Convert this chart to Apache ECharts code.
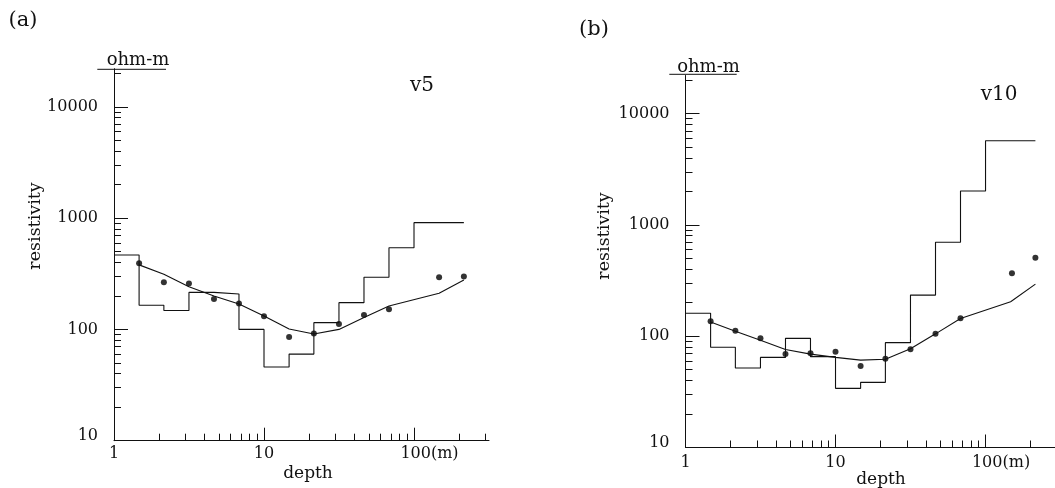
<!DOCTYPE html>
<html>
<head>
<meta charset="utf-8">
<script src="https://cdn.jsdelivr.net/npm/echarts@6/dist/echarts.min.js"></script>
<style>html,body{margin:0;padding:0;background:#fff}#c{width:1055px;height:488px}</style>
</head>
<body>
<div id="c"></div>
<script>
// ---- Panel (a) v5 ----
const modelDepthA = [1, 1.47, 2.15, 3.16, 4.64, 6.81, 10, 14.7, 21.5, 31.6, 46.4, 68.1, 100, 215];
const modelResA   = [466, 165, 148, 215, 208, 100, 46, 60, 115, 174, 294, 542, 910, 910];
const obsDepthA   = [1.47, 2.15, 3.16, 4.64, 6.81, 10, 14.7, 21.5, 31.6, 46.4, 68.1, 147, 215];
const obsResA     = [393, 265, 258, 188, 171, 131, 85.5, 92, 112, 135, 152, 294, 298];
const calcDepthA  = [1.47, 2.15, 3.16, 4.64, 6.81, 10, 14.7, 21.5, 31.6, 46.4, 68.1, 147, 215];
const calcResA    = [380, 313, 242, 200, 169, 132, 101, 91, 100, 128, 162, 211, 278];

// ---- Panel (b) v10 ----
const modelDepthB = [1, 1.47, 2.15, 3.16, 4.64, 6.81, 10, 14.7, 21.5, 31.6, 46.4, 68.1, 100, 215];
const modelResB   = [161, 79.5, 51.8, 64.5, 95.7, 65.5, 34, 38.5, 87.5, 234, 698, 2018, 5710, 5710];
const obsDepthB   = [1.47, 2.15, 3.16, 4.64, 6.81, 10, 14.7, 21.5, 31.6, 46.4, 68.1, 150, 215];
const obsResB     = [136, 112, 95.7, 69.2, 70.2, 72.6, 54, 62.8, 76.2, 105, 145, 367, 507];
const calcDepthB  = [1.47, 2.15, 3.16, 4.64, 6.81, 10, 14.7, 21.5, 31.6, 46.4, 68.1, 147, 215];
const calcResB    = [134, 111, 92, 76, 69, 64.5, 61, 62, 77, 105, 144, 204, 294];

// ---- ticks / labels ----
const xLabelValues = [1, 10, 100];
const xMajorTicks  = [10, 100];
const xMinorTicks  = [2, 3, 4, 5, 6, 7, 8, 9, 20, 30, 40, 50, 60, 70, 80, 90, 200, 300];
const yLabelValues = [10, 100, 1000, 10000];
const yMajorTicks  = [100, 1000, 10000];
const yMinorTicks  = [20, 30, 40, 50, 60, 70, 80, 90, 200, 300, 400, 500, 600, 700, 800, 900,
                      2000, 3000, 4000, 5000, 6000, 7000, 8000, 9000, 20000];

const INK = '#111';
const FONT = 'DejaVu Serif';
const zip = (xs, ys) => xs.map((x, i) => [x, ys[i]]);

const fmtX = v => {
  const r = Math.round(v);
  return r === 100 ? '{sp|}{t|100(m)}' : '{t|' + r + '}';
};
const fmtY = v => {
  const r = Math.round(v);
  return r === 10 ? '{lo|10}' : '{t|' + r + '}';
};
const richT = { fontFamily: FONT, fontSize: 16, color: INK };

function xAxes(grid, max, margin) {
  return [
    { type: 'log', gridIndex: grid, position: 'bottom', min: 1, max: max,
      axisLine: { show: true, onZero: false, lineStyle: { color: INK, width: 1 } },
      axisTick: { show: true, inside: true, length: 13, customValues: xMajorTicks, lineStyle: { color: INK, width: 1 } },
      axisLabel: { show: true, customValues: xLabelValues, margin: margin, formatter: fmtX,
        rich: { t: richT, sp: { width: 31, fontFamily: FONT, fontSize: 16 } } },
      splitLine: { show: false }, minorTick: { show: false } },
    { type: 'log', gridIndex: grid, position: 'bottom', min: 1, max: max,
      axisLine: { show: false },
      axisTick: { show: true, inside: true, length: 7, customValues: xMinorTicks, lineStyle: { color: INK, width: 1 } },
      axisLabel: { show: false }, splitLine: { show: false } }
  ];
}
function yAxes(grid) {
  return [
    { type: 'log', gridIndex: grid, position: 'left', min: 10, max: 22000,
      axisLine: { show: true, onZero: false, lineStyle: { color: INK, width: 1 } },
      axisTick: { show: true, inside: true, length: 14, customValues: yMajorTicks, lineStyle: { color: INK, width: 1 } },
      axisLabel: { show: true, customValues: yLabelValues, margin: 16, formatter: fmtY,
        rich: { t: richT, lo: Object.assign({ padding: [0, 0, 10, 0] }, richT) } },
      splitLine: { show: false } },
    { type: 'log', gridIndex: grid, position: 'left', min: 10, max: 22000,
      axisLine: { show: false },
      axisTick: { show: true, inside: true, length: 7, customValues: yMinorTicks, lineStyle: { color: INK, width: 1 } },
      axisLabel: { show: false }, splitLine: { show: false } }
  ];
}

function seriesFor(xi, yi, md, mr, od, or, cd, cr) {
  return [
    { type: 'line', xAxisIndex: xi, yAxisIndex: yi, step: 'end', data: zip(md, mr),
      symbol: 'none', lineStyle: { color: INK, width: 1.1 }, silent: true },
    { type: 'line', xAxisIndex: xi, yAxisIndex: yi, data: zip(cd, cr),
      symbol: 'none', lineStyle: { color: INK, width: 1.1 }, silent: true },
    { type: 'scatter', xAxisIndex: xi, yAxisIndex: yi, data: zip(od, or),
      symbol: 'circle', symbolSize: 6, itemStyle: { color: '#000' }, silent: true }
  ];
}

const txt = (x, y, s, size, rot) => ({
  type: 'text', x: x, y: y, rotation: rot || 0,
  style: { text: s, fontFamily: FONT, fontSize: size, fill: INK, align: 'center', verticalAlign: 'middle' }
});
const hline = (x1, x2, y) => ({
  type: 'line', shape: { x1: x1, y1: y, x2: x2, y2: y }, style: { stroke: INK, lineWidth: 1 }
});

const chart = echarts.init(document.getElementById('c'), null, { renderer: 'canvas' });
chart.setOption({
  animation: false,
  backgroundColor: '#fff',
  grid: [
    { left: 114, top: 68.7, width: 375, height: 372, outerBoundsMode: 'none', containLabel: false },
    { left: 685.5, top: 75.5, width: 369.4, height: 372, outerBoundsMode: 'none', containLabel: false }
  ],
  xAxis: [].concat(xAxes(0, 316.2, 5), xAxes(1, 290, 7)),
  yAxis: [].concat(yAxes(0), yAxes(1)),
  series: [].concat(
    seriesFor(0, 0, modelDepthA, modelResA, obsDepthA, obsResA, calcDepthA, calcResA),
    seriesFor(2, 2, modelDepthB, modelResB, obsDepthB, obsResB, calcDepthB, calcResB)
  ),
  graphic: [
    txt(23, 21, '(a)', 21),
    txt(594, 30, '(b)', 21),
    txt(138, 60.5, 'ohm-m', 18),
    hline(97.3, 166, 69.3),
    txt(708.5, 67, 'ohm-m', 18),
    hline(669.3, 736.7, 74.3),
    txt(422, 86, 'v5', 20),
    txt(999, 95, 'v10', 20),
    txt(35, 226, 'resistivity', 17.5, Math.PI / 2),
    txt(604.5, 236, 'resistivity', 17.5, Math.PI / 2),
    txt(308, 474, 'depth', 17),
    txt(881, 480, 'depth', 17)
  ]
});
</script>
</body>
</html>
